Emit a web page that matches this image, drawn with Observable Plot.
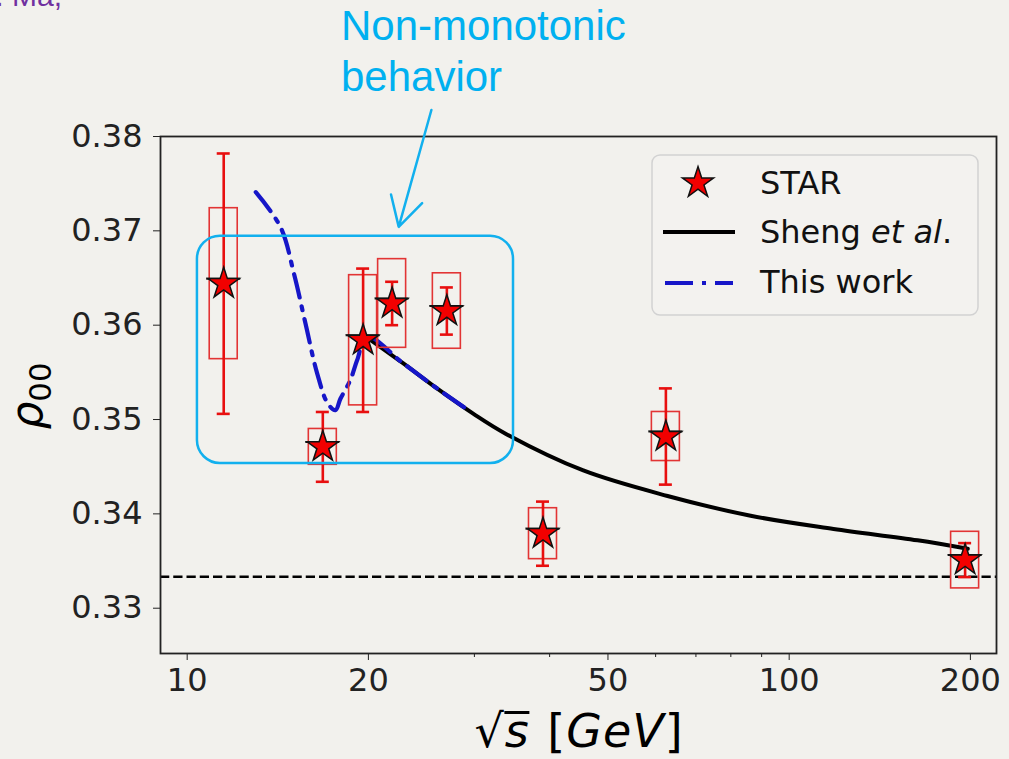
<!DOCTYPE html>
<html>
<head>
<meta charset="utf-8">
<script src="https://cdn.jsdelivr.net/npm/d3@7"></script>
<script src="https://cdn.jsdelivr.net/npm/@observablehq/plot@0.6"></script>
<style>
  body { margin: 0; background: #f2f1ed; }
  #fig { position: relative; width: 1009px; height: 759px; overflow: hidden; font-family: "DejaVu Sans", sans-serif; }
  #fig > svg { position: absolute; left: 0; top: 0; }
  .note { position: absolute; left: 341px; top: 0; font: 42px/51px "Liberation Sans", Arial, sans-serif; color: #00b0f0; white-space: nowrap; }
  .author { position: absolute; left: -28px; top: -19px; font: 30px/30px "Liberation Sans", Arial, sans-serif; color: #7030a0; white-space: nowrap; }
  .xlabel { position: absolute; left: 579px; top: 708px; transform: translateX(-50%); font: 46px/46px "DejaVu Sans", sans-serif; white-space: nowrap; color: #000; letter-spacing: 1px; }
  .ylabel { position: absolute; left: 29px; top: 396px; transform: translate(-50%, -50%) rotate(-90deg); font: 44px/44px "DejaVu Sans", sans-serif; white-space: nowrap; color: #000; }
  .rad { font-style: italic; display: inline-block; border-top: 3px solid #000; line-height: 0.74em; margin-right: 2px; }
</style>
</head>
<body>
<div id="fig">
  <div class="author">al. Ma,</div>
  <div class="note">Non-monotonic<br>behavior</div>
  <div class="xlabel">√<span class="rad">s</span> [<i>GeV</i>]</div>
  <div class="ylabel"><i>ρ</i><span style="font-size:0.7em;position:relative;top:9px">00</span></div>
</div>
<script>
// STAR phi-meson spin alignment rho00 versus collision energy
const energy  = [11.5, 16.8, 19.6, 21.9, 27, 39, 62.4, 196];
const rho00   = [0.3644, 0.3471, 0.3584, 0.3623, 0.3615, 0.3379, 0.3482, 0.3351];
const statErr = [0.0138, 0.0037, 0.0076, 0.0023, 0.0025, 0.0034, 0.0051, 0.0018];
const sysErr  = [0.0080, 0.0019, 0.0069, 0.0047, 0.0040, 0.0027, 0.0026, 0.0030];

// Model curve: Sheng et al.
const shengEnergy = [19.8, 22.8, 26.0, 29.9, 33.8, 45.5, 62.8, 86.3, 118.5, 163.4, 198];
const shengRho    = [0.3588, 0.3560, 0.3533, 0.3506, 0.3485, 0.3446, 0.3419, 0.3398, 0.3384, 0.3372, 0.3363];

// Model curve: this work
const workEnergy = [13.0, 14.29, 15.04, 15.72, 16.44, 17.12, 17.63, 17.97, 18.67, 19.16, 19.9, 22.8, 26.0, 29.6];
const workRho    = [0.3741, 0.3704, 0.3655, 0.3602, 0.3549, 0.3517, 0.3510, 0.3522, 0.3542, 0.3563, 0.3588, 0.3560, 0.3533, 0.3508];

// Unpolarized reference value
const isotropic = 1 / 3;

// Axis ticks
const xTicks = [10, 20, 50, 100, 200];
const xMinorTicks = [30, 40, 60, 70, 80, 90];
const yTicks = [0.33, 0.34, 0.35, 0.36, 0.37, 0.38];

// Highlighted low-energy region and its pointer
const regionEnergy = [10.40, 34.84];
const regionRho = [0.34534, 0.36944];
const pointerEnergy = [25.45, 22.46];
const pointerRho = [0.38281, 0.37042];

const points = energy.map((e, i) => ({e, v: rho00[i], stat: statErr[i], sys: sysErr[i]}));
const sheng = shengEnergy.map((e, i) => ({e, v: shengRho[i]}));
const work = workEnergy.map((e, i) => ({e, v: workRho[i]}));
const region = [{e1: regionEnergy[0], e2: regionEnergy[1], v1: regionRho[0], v2: regionRho[1]}];
const pointer = [{e1: pointerEnergy[0], e2: pointerEnergy[1], v1: pointerRho[0], v2: pointerRho[1]}];

// half-widths on the log axis (multiplicative factors)
const pxPerDecade = 602;
const boxHalf = 10 ** (14 / pxPerDecade);
const capHalf = 10 ** (6.5 / pxPerDecade);
const armHalf = 10 ** (17 / pxPerDecade);

const red = "#e80f0f";
const boxRed = "#e23434";
const cyan = "#12b0ee";
const blue = "#1616c8";
const dashDot = "24,9,4,9";

const chart = Plot.plot({
  width: 1009,
  height: 759,
  marginLeft: 160,
  marginRight: 13,
  marginTop: 136,
  marginBottom: 106,
  style: {background: "transparent", fontFamily: "DejaVu Sans", overflow: "visible", color: "#222"},
  x: {type: "log", domain: [9.03, 221], label: null},
  y: {domain: [0.3252, 0.38], label: null},
  marks: [
    Plot.axisY({ticks: yTicks, tickFormat: d3.format(".2f"), tickSize: 7, tickPadding: 11, fontSize: 32, label: null}),
    Plot.axisX({ticks: xTicks, tickFormat: d => String(d), tickSize: 7, tickPadding: 8, fontSize: 32, label: null}),
    Plot.axisX({ticks: xMinorTicks, tickFormat: () => "", tickSize: 4, label: null}),
    Plot.ruleY([isotropic], {stroke: "#000", strokeWidth: 2.5, strokeDasharray: "9.25,4"}),
    Plot.line(sheng, {x: "e", y: "v", curve: "catmull-rom", stroke: "#000", strokeWidth: 4}),
    Plot.line(work, {x: "e", y: "v", curve: "catmull-rom", stroke: blue, strokeWidth: 4.2, strokeDasharray: dashDot}),
    Plot.rect(points, {x1: d => d.e / boxHalf, x2: d => d.e * boxHalf, y1: d => d.v - d.sys, y2: d => d.v + d.sys, fill: "none", stroke: boxRed, strokeWidth: 1.6}),
    Plot.ruleX(points, {x: "e", y1: d => d.v - d.stat, y2: d => d.v + d.stat, stroke: red, strokeWidth: 2.6}),
    Plot.ruleY(points, {y: d => d.v + d.stat, x1: d => d.e / capHalf, x2: d => d.e * capHalf, stroke: red, strokeWidth: 2.6}),
    Plot.ruleY(points, {y: d => d.v - d.stat, x1: d => d.e / capHalf, x2: d => d.e * capHalf, stroke: red, strokeWidth: 2.6}),
    Plot.ruleY(points, {y: "v", x1: d => d.e / armHalf, x2: d => d.e * armHalf, dy: -5, stroke: "#111", strokeWidth: 2}),
    Plot.dot(points, {x: "e", y: "v", symbol: "star", r: 9.8, fill: "#f20000", stroke: "#111", strokeWidth: 1.5}),
    Plot.frame({stroke: "#222", strokeWidth: 1.8}),
    Plot.rect(region, {x1: "e1", x2: "e2", y1: "v1", y2: "v2", rx: 23, ry: 23, fill: "none", stroke: cyan, strokeWidth: 2.5}),
    Plot.arrow(pointer, {x1: "e1", y1: "v1", x2: "e2", y2: "v2", stroke: cyan, strokeWidth: 2.5, headLength: 20, headAngle: 58})
  ]
});

const fig = document.getElementById("fig");
fig.insertBefore(chart, fig.firstChild);

// Legend
const legend = d3.select(fig).append("svg")
  .attr("width", 330).attr("height", 164)
  .style("position", "absolute").style("left", "650px").style("top", "153px");
legend.append("rect")
  .attr("x", 2).attr("y", 2).attr("width", 326).attr("height", 160)
  .attr("rx", 8).attr("fill", "#f3f2ef").attr("stroke", "#d2d2d2").attr("stroke-width", 1.5);
legend.append("path")
  .attr("transform", "translate(48,30)")
  .attr("d", d3.symbol(d3.symbolStar, Math.PI * 9.8 * 9.8)())
  .attr("fill", "#f20000").attr("stroke", "#111").attr("stroke-width", 1.5);
legend.append("line").attr("x1", 13).attr("x2", 85).attr("y1", 79).attr("y2", 79)
  .attr("stroke", "#000").attr("stroke-width", 4);
legend.append("line").attr("x1", 15).attr("x2", 83).attr("y1", 130).attr("y2", 130)
  .attr("stroke", blue).attr("stroke-width", 4.2).attr("stroke-dasharray", "28,9,4,9");
const lt = legend.append("g").attr("font-family", "DejaVu Sans").attr("font-size", 32).attr("fill", "#111");
lt.append("text").attr("x", 110).attr("y", 41).text("STAR");
const sh = lt.append("text").attr("x", 110).attr("y", 90);
sh.append("tspan").text("Sheng ");
sh.append("tspan").attr("font-style", "italic").text("et al");
sh.append("tspan").text(".");
lt.append("text").attr("x", 110).attr("y", 140).text("This work");
</script>
</body>
</html>
